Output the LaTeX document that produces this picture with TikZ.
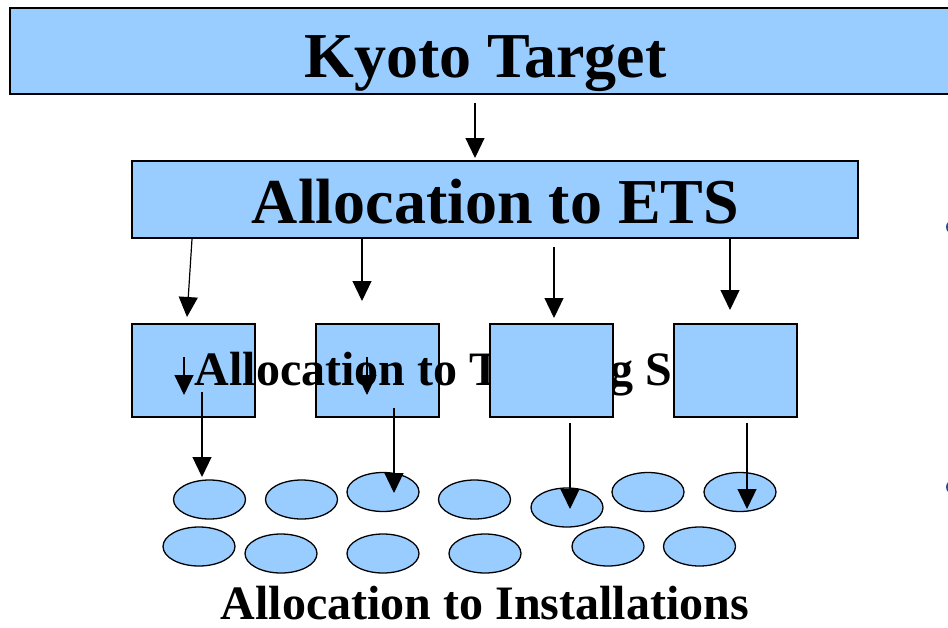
\documentclass[tikz,border=0pt]{standalone}
\usepackage{fontspec}
\setmainfont{Liberation Serif}
\usetikzlibrary{arrows.meta,shapes.geometric}
\definecolor{boxblue}{HTML}{99CCFF}
\definecolor{bulletblue}{HTML}{1F4F96}
\begin{document}
\begin{tikzpicture}[x=1pt,y=-1pt]
\tikzset{box/.style={draw,fill=boxblue,line width=1.6pt,inner sep=0pt},
         sector/.style={box,minimum width=123pt,minimum height=93pt},
         plant/.style={ellipse,draw,fill=boxblue,line width=1.3pt,minimum width=72pt,minimum height=39pt,inner sep=0pt},
         bigtext/.style={anchor=base,inner sep=0pt,font=\bfseries\fontsize{64}{64}\selectfont},
         midtext/.style={anchor=base,inner sep=0pt,font=\bfseries\fontsize{48}{48}\selectfont},
         arr/.style={-{Triangle[width=19pt,length=20pt]},line width=1.2pt}}
\useasboundingbox (0,0) rectangle (948,627);
\clip (0,0) rectangle (948,627);

% the two top levels
\node[box,minimum width=945pt,minimum height=86pt] (kyoto) at (482.5,51) {};
\node[bigtext] (kyotolab) at (485.5,77) {Kyoto Target};
\node[box,minimum width=726pt,minimum height=77pt] (ets) at (495,199.5) {};
\node[bigtext] (etslab) at (495.5,223) {Allocation to ETS};

% sector boxes: the label lies above the first two and below the last two
\node[sector] (sec1) at (193.5,370.5) {};
\node[sector] (sec2) at (377.5,370.5) {};
\node[midtext] (seclab) at (495,385) {Allocation to Trading Sectors};
\node[sector] (sec3) at (551.5,370.5) {};
\node[sector] (sec4) at (735.5,370.5) {};

% installations
\foreach \n/\x/\y in {1/209.5/499.5, 2/301.5/499.5, 3/383/492, 4/474.5/499.5, 5/567/507.5, 6/648/492, 7/740/492,
                      8/199/546.5, 9/281/553.5, 10/383/553.5, 11/485/553.5, 12/608/546.5, 13/699.5/546.5}
{
    \node[plant] (inst\n) at (\x,\y) {};
}
\node[midtext] (instlab) at (485,619) {Allocation to Installations};

% arrows
\foreach \n/\xa/\ya/\xb/\yb in {0/475/103/475/158, 1/192/239/187/317, 2/362/239/362/301, 3/554/247/554/318, 4/730/238/730/310,
                                5/184/357/184/395, 6/367/357/367/395,
                                7/202/392/202/477, 8/394/408/394/493, 9/570/423/570/509, 10/747/423/747/509}
{
    \coordinate (from\n) at (\xa,\ya);
    \coordinate (to\n) at (\xb,\yb);
    \draw[arr] (from\n) -- (to\n);
}

% bullets of the next text, cut by the page edge
\fill[bulletblue] (953,227) circle (7);
\fill[bulletblue] (953,487) circle (7);
\end{tikzpicture}
\end{document}
